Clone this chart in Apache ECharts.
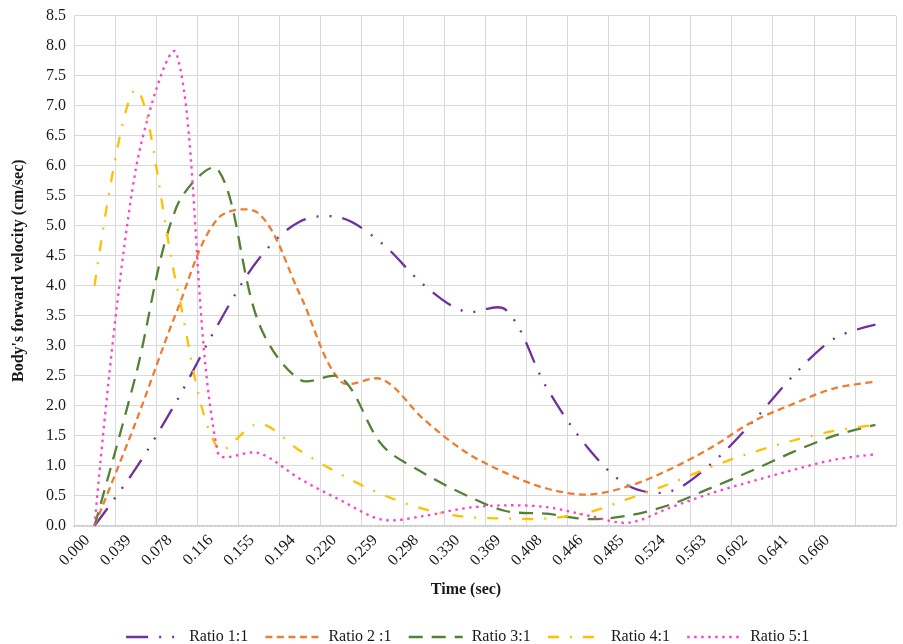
<!DOCTYPE html>
<html>
<head>
<meta charset="utf-8">
<script src="https://cdn.jsdelivr.net/npm/echarts@6/dist/echarts.min.js"></script>
<style>
  html, body { margin: 0; padding: 0; background: #fff; }
  #chart { width: 903px; height: 644px; }
</style>
</head>
<body>
<div id="chart"></div>
<script>
// Sample times (sec); the last sample has no printed label
const categories = ['0.000', '0.039', '0.078', '0.116', '0.155', '0.194', '0.220', '0.259',
  '0.298', '0.330', '0.369', '0.408', '0.446', '0.485', '0.524', '0.563', '0.602', '0.641', '0.660', ''];

// Body's forward velocity (cm/sec) for each length ratio
const ratio11 = [0, 0.95, 2.08, 3.35, 4.45, 5.07, 5.13, 4.7, 4.02, 3.57, 3.6, 2.3, 1.3, 0.66, 0.57, 1.03, 1.72, 2.5, 3.12, 3.35];
const ratio21 = [0, 1.72, 3.57, 5.12, 5.2, 3.85, 2.4, 2.44, 1.78, 1.24, 0.88, 0.62, 0.52, 0.66, 0.94, 1.3, 1.73, 2.03, 2.29, 2.4];
const ratio31 = [0, 2.5, 5.32, 5.94, 3.37, 2.43, 2.47, 1.34, 0.88, 0.52, 0.245, 0.2, 0.11, 0.17, 0.35, 0.63, 0.92, 1.23, 1.5, 1.68];
const ratio41 = [4.0, 7.27, 4.0, 1.28, 1.7, 1.25, 0.85, 0.52, 0.28, 0.15, 0.12, 0.12, 0.22, 0.45, 0.7, 0.98, 1.22, 1.42, 1.58, 1.68];
const ratio51 = [0, 5.93, 7.86, 1.22, 1.21, 0.78, 0.42, 0.1, 0.16, 0.29, 0.34, 0.31, 0.17, 0.05, 0.3, 0.54, 0.74, 0.93, 1.1, 1.19];

const seriesNames = ['Ratio 1:1', 'Ratio 2 :1', 'Ratio 3:1', 'Ratio 4:1', 'Ratio 5:1'];
const seriesValues = [ratio11, ratio21, ratio31, ratio41, ratio51];
const seriesColors = ['#7030A0', '#ED7D31', '#548235', '#FFC000', '#FF3FCC'];
const seriesDashes = [[22, 11, 2, 11, 2, 11], [7, 4.5], [14, 9], [11, 11, 2, 11], [2.5, 4.5]];

const FONT = '"Liberation Serif", "Times New Roman", serif';
const TEXT = '#1a1a1a';
const GRID = '#d9d9d9';
const LINE_W = 2.3;
const SMOOTH = 0.33;

// Line series carry the data and the legend icon; the curve itself is
// stroked by a custom series as an unconstrained smooth spline through
// the same points, positioned with the grid's own coordinate system.
function legendLine(i) {
  return {
    name: seriesNames[i],
    type: 'line',
    data: seriesValues[i],
    symbol: 'none',
    silent: true,
    lineStyle: { color: seriesColors[i], width: 0, type: seriesDashes[i] },
    itemStyle: { color: 'rgba(0,0,0,0)' },
    emphasis: { disabled: true },
    z: 1
  };
}

function curve(i) {
  const values = seriesValues[i];
  return {
    name: seriesNames[i],
    type: 'custom',
    silent: true,
    z: 2 + i,
    data: values.map((v, k) => [k, v]),
    encode: { x: 0, y: 1 },
    renderItem: function (params, api) {
      if (params.dataIndex !== 0) return null;
      const pts = values.map((v, k) => api.coord([k, v]));
      return {
        type: 'polyline',
        shape: { points: pts, smooth: SMOOTH },
        style: {
          stroke: seriesColors[i],
          lineWidth: LINE_W,
          lineDash: seriesDashes[i],
          fill: null
        }
      };
    }
  };
}

const series = [];
seriesNames.forEach((n, i) => series.push(legendLine(i)));
seriesNames.forEach((n, i) => series.push(curve(i)));

const chart = echarts.init(document.getElementById('chart'), null, { renderer: 'canvas' });

chart.setOption({
  animation: false,
  backgroundColor: '#fff',
  textStyle: { fontFamily: FONT },
  grid: { left: 74, right: 7, top: 15.7, bottom: 118.3, containLabel: false },
  xAxis: {
    type: 'category',
    data: categories,
    boundaryGap: true,
    name: 'Time (sec)',
    nameLocation: 'middle',
    nameGap: 56,
    nameTextStyle: { fontFamily: FONT, fontSize: 16, fontWeight: 'bold', color: TEXT, padding: [0, 38, 0, 0] },
    axisLine: { show: true, lineStyle: { color: '#d0d0d0', width: 2, type: [2, 2] } },
    axisTick: { show: false },
    axisLabel: { interval: 0, rotate: 45, margin: 5, padding: [0, 10, 0, 0], fontFamily: FONT, fontSize: 16, color: TEXT },
    splitLine: { show: true, interval: 0, lineStyle: { color: GRID, width: 1 } }
  },
  yAxis: {
    type: 'value',
    min: 0,
    max: 8.5,
    interval: 0.5,
    name: "Body's forward velocity (cm/sec)",
    nameLocation: 'middle',
    nameGap: 47,
    nameTextStyle: { fontFamily: FONT, fontSize: 16, fontWeight: 'bold', color: TEXT },
    axisLine: { show: false },
    axisTick: { show: false },
    axisLabel: { margin: 8, fontFamily: FONT, fontSize: 16, color: TEXT, formatter: v => v.toFixed(1) },
    splitLine: { show: true, lineStyle: { color: GRID, width: 1 } }
  },
  legend: {
    left: 120,
    top: 624,
    itemWidth: 54,
    itemHeight: 14,
    itemGap: 16,
    selectedMode: false,
    lineStyle: { width: LINE_W },
    itemStyle: { opacity: 0 },
    textStyle: { fontFamily: FONT, fontSize: 16, color: TEXT, padding: [0, 0, 0, 4] },
    data: seriesNames
  },
  series: series
});
</script>
</body>
</html>
